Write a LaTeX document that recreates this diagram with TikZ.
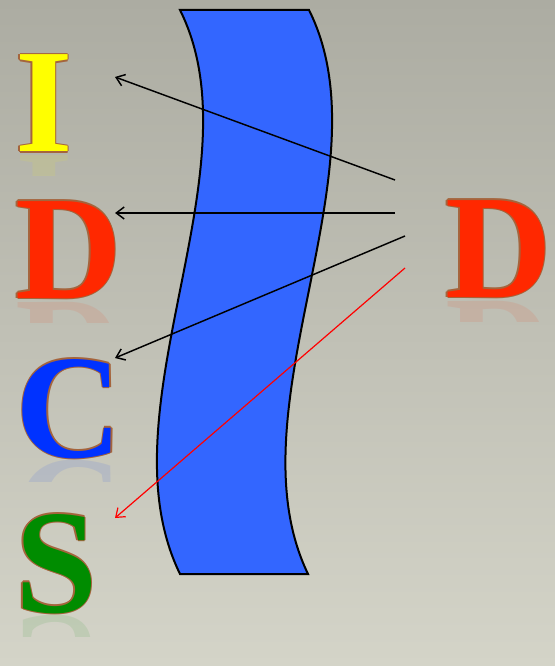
\documentclass[tikz,border=0pt]{standalone}
\usepackage{fontspec}
\setmainfont{Liberation Serif}
\usetikzlibrary{arrows.meta}

\definecolor{fondoarriba}{RGB}{172,172,162}
\definecolor{fondoabajo}{RGB}{212,212,200}
\definecolor{borde}{RGB}{165,100,60}
\definecolor{amarillo}{RGB}{255,255,0}
\definecolor{rojo}{RGB}{255,40,0}
\definecolor{azul}{RGB}{0,50,255}
\definecolor{verde}{RGB}{0,140,0}
\definecolor{azullente}{RGB}{51,102,255}

\tikzset{
  letra/.style={font=\bfseries\fontsize{111}{111}\selectfont, anchor=base west, inner sep=0pt, outer sep=0pt},
  lente/.style={draw=black, line width=1.5pt, fill=azullente},
  rayo/.style={line width=1.1pt, -{Straight Barb[length=6pt,width=9pt]}},
  rayorojo/.style={rayo, line width=0.9pt, red},
}

% letra con borde y reflejo: nombre, x, y (base), color, texto
\newcommand{\letra}[5]{%
  \begin{scope}
    \clip (#2-5,#3+3) rectangle (#2+115,#3+24);
    \node[letra, transform shape, yscale=-1, text=#4, opacity=.09] at (#2,#3+4) {#5};
  \end{scope}
  \foreach \a in {0,45,...,315}
    \node[letra, text=borde, shift={(\a:1.1)}] at (#2,#3) {#5};
  \node[letra, text=#4] (#1) at (#2,#3) {#5};
}

\begin{document}
\begin{tikzpicture}[x=0.75pt, y=-0.75pt]

    % Fondo
    \shade[top color=fondoarriba, bottom color=fondoabajo] (0,0) rectangle (555,666);
    \useasboundingbox (0,0) rectangle (555,666);

    % Lente
    \draw[lente] (180,10) -- (309,10) .. controls (389,170) and (229,410) .. (308,574)
        -- (180,574) .. controls (100,410) and (260,170) .. cycle;

    % Letras
    \letra{lI}{15}{152}{amarillo}{I}
    \letra{lD}{15}{298}{rojo}{D}
    \letra{lC}{16}{457}{azul}{C}
    \letra{lS}{15}{612}{verde}{S}
    \letra{rD}{445}{297}{rojo}{D}

    % Rayos
    \coordinate (s1) at (395,180);
    \coordinate (s2) at (395,213);
    \coordinate (s3) at (405,236);
    \coordinate (s4) at (405,268);
    \coordinate (t1) at (115,77);
    \coordinate (t2) at (115,213);
    \coordinate (t3) at (115,358);
    \coordinate (t4) at (115,518);
    \draw[rayo] (s1) -- (t1);
    \draw[rayo] (s2) -- (t2);
    \draw[rayo] (s3) -- (t3);
    \draw[rayorojo] (s4) -- (t4);

\end{tikzpicture}
\end{document}
